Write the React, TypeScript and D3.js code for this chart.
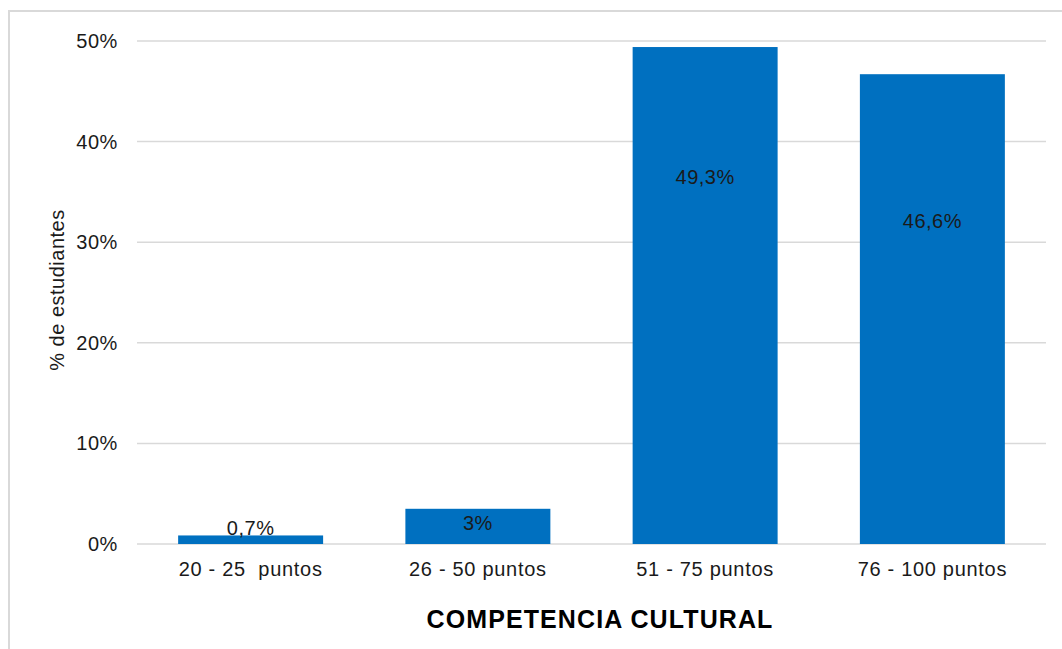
import React from "react";
import * as d3 from "d3";

const categories = ["20 - 25  puntos", "26 - 50 puntos", "51 - 75 puntos", "76 - 100 puntos"];
const values = [0.85, 3.5, 49.4, 46.7];
const valueLabels = ["0,7%", "3%", "49,3%", "46,6%"];
const labelLevels = [1.6, 2.1, 36.5, 32.1];
const yTicks = [0, 10, 20, 30, 40, 50];
const yTitle = "% de estudiantes";
const xTitle = "COMPETENCIA CULTURAL";

const W = 1062;
const H = 649;
const left = 137;
const right = 1046;
const top = 41;
const bottom = 544;

export default function App() {
  const x = d3.scaleBand<string>().domain(categories).range([left, right]).paddingInner(0.362).paddingOuter(0.181);
  const y = d3.scaleLinear().domain([0, 50]).range([bottom, top]);
  const font = "'Liberation Sans', Arial, sans-serif";
  const txt = "#1a1a1a";
  return (
    <svg width={W} height={H} style={{ position: "absolute", left: 0, top: 0, background: "#fff" }} fontFamily={font}>
      <rect x={9} y={11} width={W + 20} height={H + 20} fill="#fff" stroke="#d9d9d9" strokeWidth={2} />
      {yTicks.map((t) => (
        <g key={t}>
          <line x1={left} x2={right} y1={y(t)} y2={y(t)} stroke="#d9d9d9" strokeWidth={1.5} />
          <text x={118} y={y(t)} dy="0.35em" textAnchor="end" fontSize={20} letterSpacing={0.6} fill={txt}>
            {d3.format("d")(t)}%
          </text>
        </g>
      ))}
      {categories.map((c, i) => (
        <g key={c}>
          <rect x={x(c)} y={y(values[i])} width={x.bandwidth()} height={y(0) - y(values[i])} fill="#0070C0" />
          <text x={(x(c) as number) + x.bandwidth() / 2} y={y(labelLevels[i])} dy="0.35em" textAnchor="middle" fontSize={20} letterSpacing={0.5} fill={txt}>
            {valueLabels[i]}
          </text>
          <text x={(x(c) as number) + x.bandwidth() / 2} y={569} dy="0.35em" textAnchor="middle" fontSize={20} letterSpacing={0.7} fill={txt} style={{ whiteSpace: "pre" }}>
            {c}
          </text>
        </g>
      ))}
      <text transform={`translate(57,290) rotate(-90)`} textAnchor="middle" dy="0.35em" fontSize={20} letterSpacing={0.5} fill={txt}>
        {yTitle}
      </text>
      <text x={600} y={619} dy="0.35em" textAnchor="middle" fontSize={25} letterSpacing={1.1} fontWeight="bold" fill="#000">
        {xTitle}
      </text>
    </svg>
  );
}
